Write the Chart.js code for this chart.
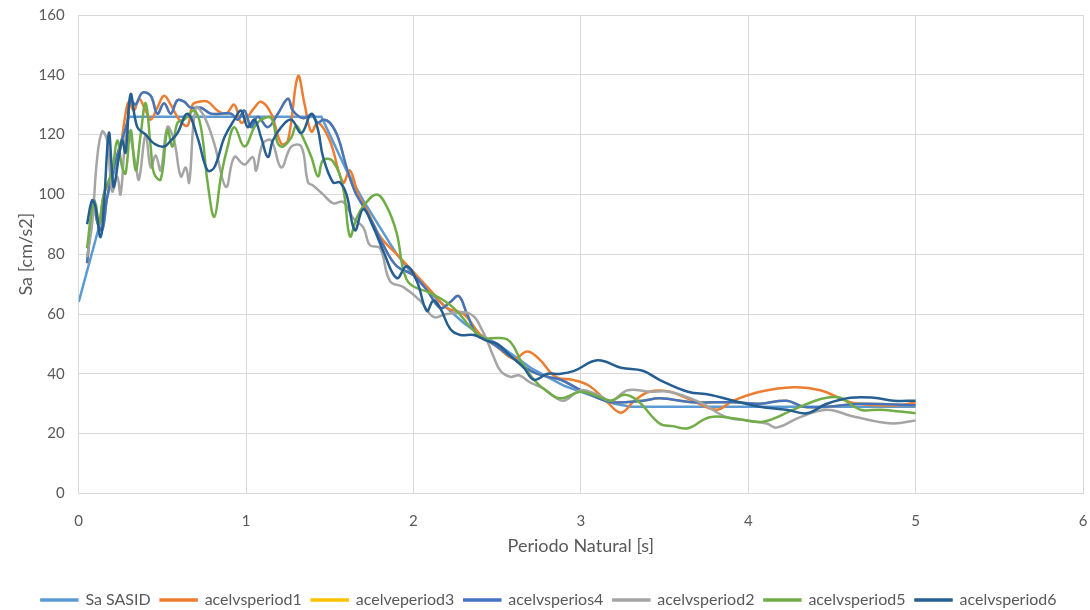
<!DOCTYPE html>
<html>
<head>
<meta charset="utf-8">
<script src="https://cdn.jsdelivr.net/npm/chart.js@4"></script>
<style>
  html, body { margin: 0; padding: 0; background: #fff; }
  #wrap { width: 1090px; height: 610px; }
</style>
</head>
<body>
<div id="wrap"><canvas id="chart" width="1090" height="610"></canvas></div>
<script>
// Sa SASID (espectro de diseño)
const tSasid = [0, 0.3, 1.45, 1.5, 1.6, 1.7, 1.8, 1.9, 2.0, 2.1, 2.2, 2.3, 2.4, 2.5, 2.6, 2.7, 2.8, 2.9, 3.0, 3.1, 3.2, 3.3, 5.0];
const saSasid = [64, 126, 126, 120, 108, 98, 89, 80, 73, 67, 62, 57, 53, 50, 46, 42, 39, 36, 34, 32, 30, 29, 29];

// acelvsperiod1
const t1 = [0.05, 0.09, 0.12, 0.15, 0.18, 0.22, 0.25, 0.28, 0.3, 0.33, 0.36, 0.4, 0.43, 0.47, 0.51, 0.55, 0.6, 0.65, 0.68, 0.72, 0.77, 0.83, 0.88, 0.93, 0.97, 1.01, 1.05, 1.09, 1.15, 1.21, 1.25, 1.31, 1.35, 1.39, 1.43, 1.5, 1.58, 1.62, 1.67, 1.72, 1.8, 1.9, 2.0, 2.1, 2.2, 2.3, 2.4, 2.5, 2.6, 2.68, 2.75, 2.85, 2.95, 3.05, 3.15, 3.24, 3.32, 3.41, 3.53, 3.67, 3.81, 3.91, 4.07, 4.27, 4.43, 4.61, 4.77, 4.91, 5.0];
const sa1 = [77, 97, 90, 100, 104, 111, 116, 127, 131, 128, 132, 128, 125, 129, 133, 130, 125, 123, 130, 131, 131, 128, 127, 130, 124, 126, 129, 131, 127, 117, 118, 139.5, 130, 121, 124, 118, 104, 108, 100, 95, 86, 80, 74, 68, 62, 60, 53, 49, 45, 47.5, 45, 39, 38, 36, 31, 27, 31, 34, 34, 31, 28, 31, 34, 35.5, 34.5, 30.5, 29.5, 29.5, 30.5];

// acelvsperiod2
const t2 = [0.05, 0.08, 0.11, 0.14, 0.17, 0.2, 0.23, 0.25, 0.28, 0.3, 0.34, 0.36, 0.4, 0.43, 0.46, 0.49, 0.53, 0.57, 0.61, 0.64, 0.66, 0.7, 0.75, 0.81, 0.88, 0.93, 0.99, 1.04, 1.06, 1.1, 1.15, 1.21, 1.27, 1.33, 1.37, 1.4, 1.46, 1.52, 1.58, 1.64, 1.7, 1.74, 1.8, 1.86, 1.94, 2.04, 2.12, 2.2, 2.34, 2.42, 2.48, 2.52, 2.58, 2.63, 2.7, 2.78, 2.85, 2.9, 3.0, 3.1, 3.18, 3.28, 3.41, 3.53, 3.71, 3.87, 3.99, 4.11, 4.17, 4.31, 4.47, 4.61, 4.77, 4.87, 5.0];
const sa2 = [79, 90, 112, 121, 118, 101, 106, 100, 119, 121, 110, 105, 120, 109, 113, 108, 122.5, 118, 106, 109, 104, 129, 126, 117, 102.5, 112.5, 110, 112.5, 108, 117, 118, 109, 116, 116, 104, 103, 100, 97, 97.5, 92, 89, 83, 82, 71, 69, 64.5, 59, 60, 60, 53.5, 45.5, 41, 39, 39.5, 37, 35, 32, 31, 34.5, 33, 31, 34.5, 34, 34, 30.5, 25.5, 24.4, 23.4, 22, 25.5, 28, 26, 24, 23.4, 24.4];

// acelvsperios4
const t4 = [0.05, 0.09, 0.11, 0.14, 0.17, 0.21, 0.25, 0.29, 0.31, 0.34, 0.38, 0.43, 0.47, 0.51, 0.55, 0.59, 0.63, 0.67, 0.73, 0.79, 0.85, 0.91, 0.95, 0.99, 1.03, 1.07, 1.13, 1.19, 1.25, 1.28, 1.34, 1.39, 1.43, 1.46, 1.5, 1.55, 1.6, 1.65, 1.7, 1.76, 1.82, 1.9, 2.0, 2.08, 2.16, 2.22, 2.27, 2.32, 2.38, 2.45, 2.55, 2.6, 2.7, 2.8, 2.88, 3.0, 3.1, 3.18, 3.37, 3.47, 3.67, 3.91, 4.07, 4.23, 4.33, 4.47, 4.67, 5.0];
const sa4 = [77, 98, 91, 88, 99, 109, 117, 124, 131.5, 130, 134, 133, 127, 130.5, 127, 131.5, 131, 129, 129, 127, 127, 127, 125, 128, 122.5, 126, 122.5, 127, 132, 128, 125.5, 126.5, 124, 125, 124, 119, 109, 101, 96, 90, 83, 76, 73, 68, 62, 64, 66, 60, 53, 51, 47, 45, 41, 39, 38, 34.5, 32, 30.5, 31, 31.8, 30.5, 30.5, 30, 31, 29, 29, 30, 29.5];

// acelveperiod3: queda oculta bajo acelvsperios4 en el original
const t3 = [...t4];
const sa3 = [...sa4];

// acelvsperiod5
const t5 = [0.05, 0.08, 0.1, 0.12, 0.15, 0.2, 0.23, 0.26, 0.28, 0.31, 0.34, 0.37, 0.4, 0.43, 0.45, 0.49, 0.53, 0.56, 0.59, 0.63, 0.69, 0.73, 0.77, 0.81, 0.85, 0.89, 0.93, 0.99, 1.05, 1.09, 1.15, 1.19, 1.22, 1.27, 1.3, 1.34, 1.39, 1.43, 1.46, 1.52, 1.58, 1.62, 1.66, 1.7, 1.78, 1.84, 1.9, 1.94, 1.98, 2.1, 2.18, 2.26, 2.34, 2.42, 2.5, 2.56, 2.6, 2.64, 2.72, 2.8, 2.88, 3.0, 3.1, 3.18, 3.26, 3.34, 3.47, 3.55, 3.64, 3.77, 3.93, 4.09, 4.27, 4.4, 4.47, 4.55, 4.67, 4.79, 5.0];
const sa5 = [82, 95, 97, 90, 100, 108, 118, 109, 107, 121.5, 108, 120, 130.5, 116, 107, 105, 121.5, 116, 124, 125, 128, 122.5, 104, 92.5, 106, 116, 122.5, 116, 122.5, 125, 125.5, 117, 116, 119, 123, 119, 112.5, 106, 111.5, 111, 102, 86, 92, 96, 100, 96, 87, 74.6, 70, 67, 64.6, 61, 55.6, 52, 52, 51.5, 49, 44.5, 38, 34, 31.8, 34, 32.5, 31, 33, 31, 23.4, 22.5, 21.8, 25.5, 25, 24, 28, 31, 32, 32, 28, 28, 26.8];

// acelvsperiod6
const t6 = [0.05, 0.08, 0.1, 0.13, 0.15, 0.18, 0.2, 0.21, 0.24, 0.26, 0.28, 0.31, 0.35, 0.4, 0.45, 0.51, 0.55, 0.59, 0.65, 0.71, 0.77, 0.81, 0.87, 0.93, 0.97, 1.01, 1.05, 1.09, 1.13, 1.16, 1.21, 1.27, 1.33, 1.39, 1.43, 1.46, 1.52, 1.56, 1.6, 1.65, 1.7, 1.76, 1.82, 1.9, 1.96, 2.02, 2.08, 2.12, 2.16, 2.22, 2.28, 2.36, 2.44, 2.5, 2.58, 2.66, 2.72, 2.8, 2.88, 2.96, 3.1, 3.24, 3.37, 3.47, 3.64, 3.77, 3.91, 4.07, 4.23, 4.35, 4.47, 4.61, 4.75, 4.87, 5.0];
const sa6 = [90, 98, 96, 85.7, 96, 120.5, 107, 102.5, 112.5, 118, 114, 133.5, 122.5, 120, 117, 116, 118, 120.5, 127, 119, 108, 109, 119, 125, 128, 122.5, 125, 119, 112.5, 118, 122.5, 125, 120.5, 127, 121.5, 112.5, 104, 104, 100, 88, 95, 89, 81, 72, 76, 71, 61, 64.6, 62, 55, 53, 53, 51, 50, 46, 42, 38, 40, 40, 41, 44.5, 42, 41, 38, 34, 33, 31, 29, 28, 26.8, 30, 32, 32, 31, 31];

const xTicks = [0, 1, 2, 3, 4, 5, 6];
const yTicks = [0, 20, 40, 60, 80, 100, 120, 140, 160];

const series = [
  { label: 'Sa SASID', t: tSasid, sa: saSasid, color: '#5B9BD5', tension: 0 },
  { label: 'acelvsperiod1', t: t1, sa: sa1, color: '#ED7D31' },
  { label: 'acelveperiod3', t: t3, sa: sa3, color: '#FFC000' },
  { label: 'acelvsperios4', t: t4, sa: sa4, color: '#4472C4' },
  { label: 'acelvsperiod2', t: t2, sa: sa2, color: '#A5A5A5' },
  { label: 'acelvsperiod5', t: t5, sa: sa5, color: '#70AD47' },
  { label: 'acelvsperiod6', t: t6, sa: sa6, color: '#255E91' }
];

const textColor = '#595959';
const gridColor = '#d9d9d9';
Chart.defaults.font.family = 'Lato, "Open Sans", sans-serif';
Chart.defaults.color = textColor;

new Chart(document.getElementById('chart'), {
  type: 'line',
  data: {
    datasets: series.map((s, i) => ({
      label: s.label,
      data: s.t.map((t, k) => ({ x: t, y: s.sa[k] })),
      borderColor: s.color,
      backgroundColor: s.color,
      borderWidth: 2.5,
      pointRadius: 0,
      tension: s.tension ?? 0.4,
      order: -i  // la última serie queda encima, como en Excel
    }))
  },
  options: {
    responsive: false,
    animation: false,
    layout: { padding: { left: 15, right: 7, top: 15, bottom: -8 } },
    scales: {
      x: {
        type: 'linear',
        min: 0, max: 6,
        afterBuildTicks: axis => { axis.ticks = xTicks.map(v => ({ value: v })); },
        // marcas invisibles para separar las etiquetas del eje
        grid: { color: gridColor, tickColor: 'rgba(0,0,0,0)', tickLength: 19 },
        border: { color: gridColor },
        ticks: { padding: 0, font: { size: 15 } },
        title: { display: true, text: 'Periodo Natural [s]', font: { size: 18 }, padding: { top: 5, bottom: 25 } }
      },
      y: {
        min: 0, max: 160,
        afterBuildTicks: axis => { axis.ticks = yTicks.map(v => ({ value: v })); },
        grid: { color: gridColor, tickColor: 'rgba(0,0,0,0)', tickLength: 14 },
        border: { color: gridColor },
        ticks: { padding: 0, font: { size: 15 } },
        title: { display: true, text: 'Sa [cm/s2]', font: { size: 18 }, padding: { top: 0, bottom: 2 } }
      }
    },
    plugins: {
      legend: {
        position: 'bottom',
        labels: {
          boxWidth: 36, boxHeight: 1, padding: 10, font: { size: 16 },
          sort: (a, b) => a.datasetIndex - b.datasetIndex
        }
      },
      tooltip: { enabled: false }
    }
  }
});
</script>
</body>
</html>
